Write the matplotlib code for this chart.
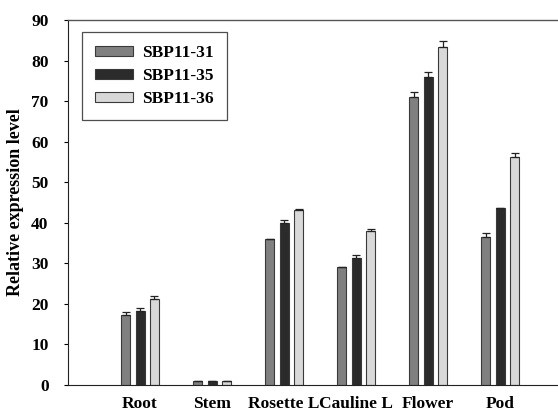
import numpy as np
import matplotlib.pyplot as plt

# data
categories = ['Root', 'Stem', 'Rosette L', 'Cauline L', 'Flower', 'Pod']
series = ['SBP11-31', 'SBP11-35', 'SBP11-36']
sbp31 = [17.3, 1.0, 35.9, 29.0, 71.0, 36.6]
sbp35 = [18.3, 1.0, 40.0, 31.2, 76.0, 43.6]
sbp36 = [21.3, 1.0, 43.1, 38.0, 83.4, 56.1]
err31 = [0.8, 0.1, 0.2, 0.2, 1.2, 1.0]
err35 = [0.8, 0.1, 0.7, 0.9, 1.2, 0.1]
err36 = [0.7, 0.1, 0.2, 0.5, 1.3, 1.1]

colors = ['#808080', '#2b2b2b', '#d8d8d8']

plt.rcParams['font.family'] = ['Liberation Serif', 'DejaVu Serif']
plt.rcParams['font.weight'] = 'bold'

fig = plt.figure(figsize=(5.58, 4.12), dpi=100)
ax = fig.add_axes([0.1219, 0.0655, 0.878, 0.886])

x = np.arange(1, len(categories) + 1)
width = 0.125
offsets = [-0.2, 0.0, 0.2]
values = [sbp31, sbp35, sbp36]
errors = [err31, err35, err36]

for vals, errs, off, col, name in zip(values, errors, offsets, colors, series):
    ax.bar(x + off, vals, width, color=col, edgecolor='#3a3a3a', linewidth=0.8,
           label=name, zorder=2)
    ax.errorbar(x + off, vals, yerr=[np.zeros(len(errs)), errs], fmt='none',
                ecolor='#222222', elinewidth=0.9, capsize=2.6, capthick=0.9, zorder=3)

ax.set_xlim(0, 6.8)
ax.set_ylim(0, 90)
ax.set_yticks(np.arange(0, 91, 10))
ax.set_xticks(x)
ax.set_xticklabels(categories, fontsize=12.5, fontweight='bold')
ax.tick_params(axis='x', length=0, pad=8)
ax.tick_params(axis='y', direction='out', length=3, labelsize=12.5, width=0.8, pad=11)
for lab in ax.get_yticklabels():
    lab.set_fontweight('bold')

ax.spines['right'].set_visible(False)
for s in ['left', 'bottom']:
    ax.spines[s].set_color('#222222')
ax.spines['top'].set_color('#555555')
ax.spines['top'].set_linewidth(1.0)

ax.set_ylabel('Relative expression level', fontsize=13, fontweight='bold', labelpad=5)

leg = ax.legend(loc='upper left', bbox_to_anchor=(0.029, 0.967), borderaxespad=0,
                fontsize=12.5, frameon=True, fancybox=False, edgecolor='#222222',
                handlelength=2.2, handleheight=0.52, handletextpad=0.5,
                borderpad=0.75, labelspacing=0.4)
leg.get_frame().set_linewidth(0.9)
for t in leg.get_texts():
    t.set_fontweight('bold')

fig.savefig('out.png', dpi=100)
